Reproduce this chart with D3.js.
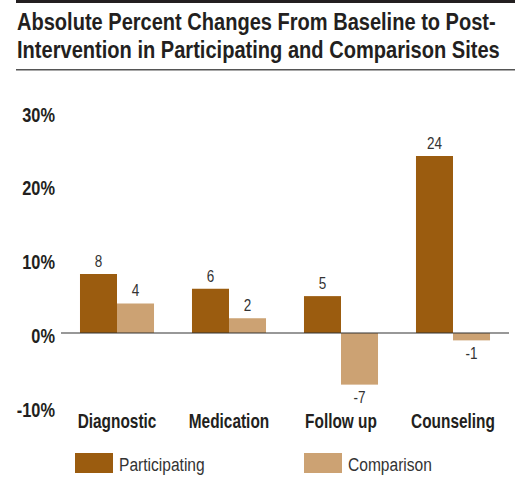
<!DOCTYPE html>
<html lang="en">
<head>
<meta charset="UTF-8">
<title>Absolute Percent Changes</title>
<script src="https://cdnjs.cloudflare.com/ajax/libs/d3/7.8.5/d3.min.js"></script>
<style>
    body { margin: 0; background: #fff; }
    svg text { font-family: "Liberation Sans", Arial, sans-serif; }
    .title { font-size: 23.5px; font-weight: bold; fill: #231f20; }
    .tick-label { font-size: 19.5px; font-weight: bold; fill: #231f20; text-anchor: end; }
    .cat-label { font-size: 19.5px; font-weight: bold; fill: #231f20; text-anchor: middle; }
    .value-label { font-size: 16.5px; fill: #333; text-anchor: middle; }
    .legend-text { font-size: 19px; fill: #333; }
</style>
</head>
<body>
<svg id="chart" width="515" height="495"></svg>
<script>
    // --- Data ---
    const categories = ["Diagnostic", "Medication", "Follow up", "Counseling"];
    const participating = [8, 6, 5, 24];
    const comparison = [4, 2, -7, -1];
    const seriesNames = ["Participating", "Comparison"];
    const yTicks = [30, 20, 10, 0, -10];
    const titleLines = ["Absolute Percent Changes From Baseline to Post-",
                        "Intervention in Participating and Comparison Sites"];

    const colors = ["#9b5c0f", "#cca273"];

    const svg = d3.select("#chart");

    // the original uses a condensed face; squeeze the regular one horizontally
    // around its anchor point (px, py). k < 1 is a factor, k > 1 a target width.
    function squeeze(sel, px, py, k) {
        sel.attr("x", 0).attr("y", 0).each(function(d, i) {
            const w = this.getComputedTextLength();
            const kk = typeof k === "function" ? k(d, i) : k;
            const s = kk > 1 ? kk / w : kk;
            d3.select(this).attr("transform", `translate(${px(d, i)},${py(d, i)}) scale(${s},1)`);
        });
    }

    // --- Title and rules ---
    svg.append("rect").attr("x", 16).attr("y", 0).attr("width", 499).attr("height", 3).attr("fill", "#231f20");
    svg.append("rect").attr("x", 16).attr("y", 69).attr("width", 499).attr("height", 1.5).attr("fill", "#555");

    const titleWidths = [479, 483];
    svg.selectAll(".title")
        .data(titleLines)
        .join("text")
        .attr("class", "title")
        .text(d => d)
        .call(squeeze, () => 17, (d, i) => 30 + i * 28, (d, i) => titleWidths[i]);

    // --- Scales ---
    const x0 = d3.scaleBand().domain(categories).range([61, 509]).paddingInner(0.339).paddingOuter(0.1695);
    const x1 = d3.scaleBand().domain(seriesNames).range([0, x0.bandwidth()]);
    const y = d3.scaleLinear().domain([-10, 30]).range([406.75, 111.75]);

    // --- Y tick labels ---
    svg.selectAll(".tick-label")
        .data(yTicks)
        .join("text")
        .attr("class", "tick-label")
        .attr("dy", "0.35em")
        .text(d => d + "%")
        .call(squeeze, () => 55, d => y(d) + 3, 0.84);

    // --- Bars ---
    const rows = categories.map((c, i) => ({ cat: c, vals: [participating[i], comparison[i]] }));

    const groups = svg.selectAll(".group")
        .data(rows)
        .join("g")
        .attr("class", "group")
        .attr("transform", d => `translate(${x0(d.cat)},0)`);

    groups.selectAll("rect")
        .data(d => d.vals.map((v, j) => ({ v, s: seriesNames[j], j })))
        .join("rect")
        .attr("x", d => x1(d.s))
        .attr("y", d => y(Math.max(0, d.v)))
        .attr("width", x1.bandwidth())
        .attr("height", d => Math.abs(y(d.v) - y(0)))
        .attr("fill", d => colors[d.j]);

    groups.selectAll(".value-label")
        .data(d => d.vals.map((v, j) => ({ v, s: seriesNames[j] })))
        .join("text")
        .attr("class", "value-label")
        .attr("dy", "0.35em")
        .text(d => d.v)
        .call(squeeze,
              d => x1(d.s) + x1.bandwidth() / 2,
              d => d.v >= 0 ? y(d.v) - 13 : y(d.v) + 13,
              0.82);

    // --- Zero line ---
    svg.append("line")
        .attr("x1", 61).attr("x2", 509)
        .attr("y1", y(0)).attr("y2", y(0))
        .attr("stroke", "#333").attr("stroke-width", 1.2);

    // --- Category labels ---
    svg.selectAll(".cat-label")
        .data(categories)
        .join("text")
        .attr("class", "cat-label")
        .attr("dy", "0.35em")
        .text(d => d)
        .call(squeeze, d => x0(d) + x0.bandwidth() / 2, () => 421, 0.79);

    // --- Legend ---
    const legendX = [75, 304];
    const legend = svg.selectAll(".legend")
        .data(seriesNames)
        .join("g")
        .attr("class", "legend")
        .attr("transform", (d, i) => `translate(${legendX[i]},453)`);
    legend.append("rect").attr("width", 38).attr("height", 20).attr("fill", (d, i) => colors[i]);
    legend.append("text").attr("class", "legend-text").attr("dy", "0.35em").text(d => d)
        .call(squeeze, () => 44, () => 11, 0.82);
</script>
</body>
</html>
